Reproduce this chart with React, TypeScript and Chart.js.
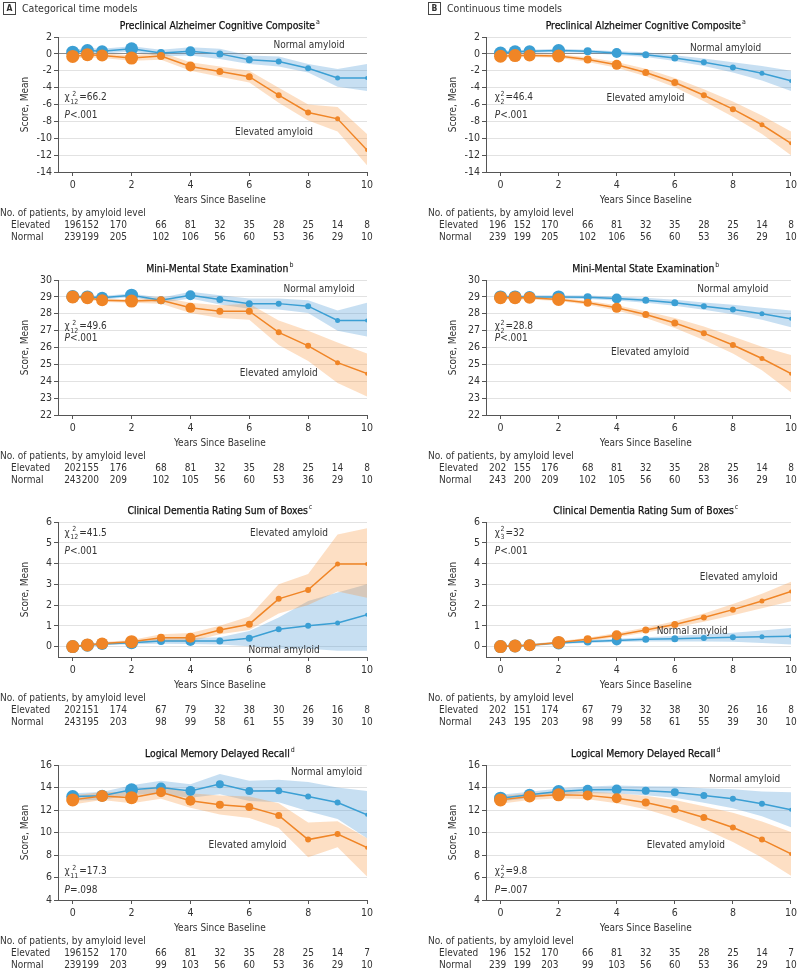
import React, { useEffect, useRef } from "react";
import { Chart, registerables } from "chart.js";
Chart.register(...registerables);

const FONT = "'DejaVu Sans Condensed', 'Liberation Sans Narrow', 'DejaVu Sans', sans-serif";
Chart.defaults.font.family = FONT;

// ---------- time grids / ticks ----------
const T12 = [0, 0.5, 1, 2, 3, 4, 5, 6, 7, 8, 9, 10];
const T11 = [0, 1, 2, 3, 4, 5, 6, 7, 8, 9, 10];
const xTickValues = [0, 2, 4, 6, 8, 10];
const tableColsA = [0, 0.6, 1.55, 3, 4, 5, 6, 7, 8, 9, 10];
const tableColsB = [-0.1, 0.75, 1.7, 3, 4, 5, 6, 7, 8, 9, 10];
const paccTicks = [2, 0, -2, -4, -6, -8, -10, -12, -14];
const mmseTicks = [30, 29, 28, 27, 26, 25, 24, 23, 22];
const cdrTicks = [6, 5, 4, 3, 2, 1, 0];
const lmTicks = [16, 14, 12, 10, 8, 6, 4];

// ---------- patient counts ----------
const paccElevCounts = [196, 152, 170, 66, 81, 32, 35, 28, 25, 14, 8];
const paccNormCounts = [239, 199, 205, 102, 106, 56, 60, 53, 36, 29, 10];
const mmseElevCounts = [202, 155, 176, 68, 81, 32, 35, 28, 25, 14, 8];
const mmseNormCounts = [243, 200, 209, 102, 105, 56, 60, 53, 36, 29, 10];
const cdrElevCounts = [202, 151, 174, 67, 79, 32, 38, 30, 26, 16, 8];
const cdrNormCounts = [243, 195, 203, 98, 99, 58, 61, 55, 39, 30, 10];
const lmElevCounts = [196, 152, 170, 66, 81, 32, 35, 28, 25, 14, 7];
const lmNormCounts = [239, 199, 203, 99, 103, 56, 60, 53, 36, 29, 10];

// ---------- A: categorical time models ----------
const paccCatNormal = [0.2, 0.4, 0.3, 0.6, 0.1, 0.3, 0.0, -0.7, -0.9, -1.7, -2.85, -2.85];
const paccCatNormalUp = [0.5, 0.7, 0.6, 0.9, 0.5, 0.8, 0.6, -0.2, -0.3, -1.2, -1.8, -1.2];
const paccCatNormalLo = [-0.1, 0.1, 0.0, 0.3, -0.3, -0.2, -0.6, -1.2, -1.5, -2.2, -3.9, -4.4];
const paccCatElev = [-0.3, -0.1, -0.2, -0.5, -0.25, -1.5, -2.1, -2.7, -4.9, -6.95, -7.7, -11.4];
const paccCatElevUp = [0.0, 0.2, 0.1, -0.2, 0.2, -1.0, -1.5, -2.0, -4.0, -6.0, -6.3, -9.5];
const paccCatElevLo = [-0.6, -0.4, -0.5, -0.8, -0.7, -2.0, -2.7, -3.4, -5.8, -7.9, -9.2, -13.2];

const mmseCatNormal = [29.02, 29.0, 28.95, 29.1, 28.8, 29.1, 28.85, 28.6, 28.6, 28.45, 27.6, 27.6];
const mmseCatNormalUp = [29.12, 29.1, 29.05, 29.2, 28.95, 29.3, 29.1, 28.9, 28.9, 28.8, 28.2, 28.65];
const mmseCatNormalLo = [28.92, 28.9, 28.85, 29.0, 28.65, 28.9, 28.55, 28.3, 28.25, 28.05, 27.0, 26.65];
const mmseCatElev = [29.0, 28.95, 28.8, 28.75, 28.8, 28.35, 28.15, 28.15, 26.9, 26.1, 25.1, 24.45];
const mmseCatElevUp = [29.1, 29.05, 28.9, 28.85, 29.0, 28.65, 28.5, 28.6, 27.6, 27.0, 26.3, 25.65];
const mmseCatElevLo = [28.9, 28.85, 28.7, 28.65, 28.6, 28.05, 27.75, 27.65, 26.15, 25.2, 23.9, 23.1];

const cdrCatNormal = [0.0, 0.07, 0.13, 0.19, 0.27, 0.27, 0.27, 0.4, 0.84, 1.01, 1.14, 1.53];
const cdrCatNormalUp = [0.05, 0.12, 0.2, 0.27, 0.4, 0.42, 0.45, 0.75, 1.4, 2.2, 2.6, 3.0];
const cdrCatNormalLo = [-0.05, 0.02, 0.06, 0.11, 0.14, 0.12, 0.1, 0.02, -0.1, -0.1, -0.2, -0.2];
const cdrCatElev = [0.0, 0.08, 0.15, 0.24, 0.43, 0.43, 0.8, 1.08, 2.3, 2.73, 3.98, 3.98];
const cdrCatElevUp = [0.05, 0.14, 0.22, 0.32, 0.6, 0.65, 1.0, 1.45, 3.0, 3.5, 5.4, 5.7];
const cdrCatElevLo = [-0.05, 0.02, 0.08, 0.16, 0.26, 0.25, 0.6, 0.8, 1.6, 2.0, 2.65, 2.35];

const lmCatNormal = [13.2, 13.26, 13.79, 14.0, 13.7, 14.3, 13.7, 13.72, 13.2, 12.67, 11.58];
const lmCatNormalUp = [13.5, 13.6, 14.2, 14.6, 14.3, 15.2, 14.6, 14.7, 14.5, 14.0, 13.7];
const lmCatNormalLo = [12.85, 12.9, 13.35, 13.4, 13.1, 13.4, 12.8, 12.7, 11.9, 11.2, 9.5];
const lmCatElev = [12.9, 13.25, 13.1, 13.58, 12.82, 12.46, 12.26, 11.52, 9.37, 9.87, 8.65];
const lmCatElevUp = [13.3, 13.6, 13.6, 14.2, 13.5, 13.3, 13.2, 12.6, 10.9, 11.0, 9.5];
const lmCatElevLo = [12.5, 12.9, 12.6, 13.0, 12.2, 11.6, 11.3, 10.4, 7.8, 8.7, 6.1];

// ---------- B: continuous time models ----------
const paccConNormal = [0.1, 0.25, 0.3, 0.4, 0.3, 0.1, -0.1, -0.5, -1.0, -1.6, -2.3, -3.2];
const paccConNormalUp = [0.35, 0.47, 0.5, 0.6, 0.5, 0.32, 0.18, -0.15, -0.55, -1.0, -1.45, -2.0];
const paccConNormalLo = [-0.15, 0.03, 0.1, 0.2, 0.1, -0.12, -0.38, -0.85, -1.45, -2.2, -3.15, -4.4];
const paccConElev = [-0.28, -0.2, -0.18, -0.25, -0.68, -1.3, -2.2, -3.4, -4.9, -6.55, -8.4, -10.6];
const paccConElevUp = [-0.03, 0.02, 0.02, -0.03, -0.4, -0.95, -1.75, -2.85, -4.2, -5.65, -7.3, -9.2];
const paccConElevLo = [-0.53, -0.42, -0.38, -0.47, -0.96, -1.65, -2.65, -3.95, -5.6, -7.45, -9.5, -12.0];

const mmseConNormal = [29.0, 29.0, 29.0, 29.0, 28.98, 28.9, 28.8, 28.65, 28.45, 28.25, 28.0, 27.7];
const mmseConNormalUp = [29.1, 29.1, 29.1, 29.1, 29.08, 29.02, 28.95, 28.83, 28.67, 28.53, 28.36, 28.2];
const mmseConNormalLo = [28.9, 28.9, 28.9, 28.9, 28.88, 28.78, 28.65, 28.47, 28.23, 27.97, 27.64, 27.2];
const mmseConElev = [28.95, 28.95, 28.95, 28.85, 28.65, 28.35, 27.95, 27.45, 26.85, 26.15, 25.35, 24.45];
const mmseConElevUp = [29.05, 29.05, 29.05, 28.95, 28.77, 28.5, 28.15, 27.75, 27.25, 26.65, 26.05, 25.55];
const mmseConElevLo = [28.85, 28.85, 28.85, 28.75, 28.53, 28.2, 27.75, 27.15, 26.45, 25.65, 24.65, 23.35];

const cdrConNormal = [0.0, 0.03, 0.07, 0.18, 0.25, 0.3, 0.35, 0.38, 0.42, 0.45, 0.48, 0.5];
const cdrConNormalUp = [0.04, 0.07, 0.12, 0.24, 0.32, 0.38, 0.45, 0.51, 0.59, 0.67, 0.78, 0.9];
const cdrConNormalLo = [-0.04, -0.01, 0.02, 0.12, 0.18, 0.22, 0.25, 0.25, 0.25, 0.23, 0.18, 0.1];
const cdrConElev = [0.0, 0.03, 0.07, 0.2, 0.35, 0.55, 0.8, 1.07, 1.4, 1.78, 2.2, 2.65];
const cdrConElevUp = [0.04, 0.07, 0.12, 0.26, 0.43, 0.65, 0.92, 1.22, 1.6, 2.05, 2.55, 3.12];
const cdrConElevLo = [-0.04, -0.01, 0.02, 0.14, 0.27, 0.45, 0.68, 0.92, 1.2, 1.51, 1.85, 2.18];

const lmConNormal = [13.05, 13.35, 13.64, 13.79, 13.82, 13.72, 13.58, 13.29, 13.0, 12.55, 12.02];
const lmConNormalUp = [13.35, 13.63, 13.91, 14.09, 14.17, 14.12, 14.08, 13.94, 13.85, 13.65, 13.57];
const lmConNormalLo = [12.75, 13.07, 13.37, 13.49, 13.47, 13.32, 13.08, 12.64, 12.15, 11.45, 10.47];
const lmConElev = [12.9, 13.2, 13.35, 13.3, 13.05, 12.67, 12.08, 11.34, 10.45, 9.37, 8.1];
const lmConElevUp = [13.25, 13.5, 13.65, 13.65, 13.5, 13.27, 12.88, 12.34, 11.75, 10.97, 10.05];
const lmConElevLo = [12.55, 12.9, 13.05, 12.95, 12.6, 12.07, 11.28, 10.34, 9.15, 7.77, 6.15];

// ---------- styling ----------
const BLUE = "#3b9fd4";
const ORANGE = "#f08526";
const BLUE_BAND = "rgba(80,155,215,0.32)";
const ORANGE_BAND = "rgba(248,150,60,0.30)";
const AXIS = "#555";
const TXT = "#333";
const FS = 10;
const R12 = [6.5, 6.5, 6, 6.5, 4, 5, 3.5, 3.5, 3, 3, 2.5, 2];
const R11 = [6.5, 6, 6.5, 5, 5, 4, 4, 3.5, 3, 3, 2];

type Cfg = {
  title: string; sup: string; yMin: number; yMax: number; yTicks: number[]; zero?: boolean;
  t: number[]; radii: number[];
  normal: number[]; normalUp: number[]; normalLo: number[];
  elev: number[]; elevUp: number[]; elevLo: number[];
  chiSup: string; chiSub: string; chiVal: string; pRest: string;
  chiAt: [number, number]; pAt: [number, number];
  normalAt: [number, number]; elevAt: [number, number];
  elevCounts: number[]; normCounts: number[]; cols: number[];
  right: boolean;
};

const panelsA: Cfg[] = [
  { title: "Preclinical Alzheimer Cognitive Composite", sup: "a", yMin: -14, yMax: 2, yTicks: paccTicks, zero: true,
    t: T12, radii: R12, normal: paccCatNormal, normalUp: paccCatNormalUp, normalLo: paccCatNormalLo,
    elev: paccCatElev, elevUp: paccCatElevUp, elevLo: paccCatElevLo,
    chiSup: "2", chiSub: "12", chiVal: "=66.2", pRest: "<.001", chiAt: [-0.28, -5.2], pAt: [-0.28, -7.35],
    normalAt: [8.03, 0.99], elevAt: [6.84, -9.33], elevCounts: paccElevCounts, normCounts: paccNormCounts, cols: tableColsA, right: false },
  { title: "Mini-Mental State Examination", sup: "b", yMin: 22, yMax: 30, yTicks: mmseTicks,
    t: T12, radii: R12, normal: mmseCatNormal, normalUp: mmseCatNormalUp, normalLo: mmseCatNormalLo,
    elev: mmseCatElev, elevUp: mmseCatElevUp, elevLo: mmseCatElevLo,
    chiSup: "2", chiSub: "12", chiVal: "=49.6", pRest: "<.001", chiAt: [-0.28, 27.23], pAt: [-0.28, 26.54],
    normalAt: [8.37, 29.47], elevAt: [7.0, 24.47], elevCounts: mmseElevCounts, normCounts: mmseNormCounts, cols: tableColsA, right: false },
  { title: "Clinical Dementia Rating Sum of Boxes", sup: "c", yMin: -0.5, yMax: 6, yTicks: cdrTicks,
    t: T12, radii: R12, normal: cdrCatNormal, normalUp: cdrCatNormalUp, normalLo: cdrCatNormalLo,
    elev: cdrCatElev, elevUp: cdrCatElevUp, elevLo: cdrCatElevLo,
    chiSup: "2", chiSub: "12", chiVal: "=41.5", pRest: "<.001", chiAt: [-0.28, 5.47], pAt: [-0.28, 4.58],
    normalAt: [7.18, -0.19], elevAt: [7.35, 5.47], elevCounts: cdrElevCounts, normCounts: cdrNormCounts, cols: tableColsA, right: false },
  { title: "Logical Memory Delayed Recall", sup: "d", yMin: 4, yMax: 16, yTicks: lmTicks,
    t: T11, radii: R11, normal: lmCatNormal, normalUp: lmCatNormalUp, normalLo: lmCatNormalLo,
    elev: lmCatElev, elevUp: lmCatElevUp, elevLo: lmCatElevLo,
    chiSup: "2", chiSub: "11", chiVal: "=17.3", pRest: "=.098", chiAt: [-0.28, 6.51], pAt: [-0.28, 4.89],
    normalAt: [8.63, 15.38], elevAt: [5.94, 8.84], elevCounts: lmElevCounts, normCounts: lmNormCounts, cols: tableColsA, right: false },
];

const panelsB: Cfg[] = [
  { title: "Preclinical Alzheimer Cognitive Composite", sup: "a", yMin: -14, yMax: 2, yTicks: paccTicks, zero: true,
    t: T12, radii: R12, normal: paccConNormal, normalUp: paccConNormalUp, normalLo: paccConNormalLo,
    elev: paccConElev, elevUp: paccConElevUp, elevLo: paccConElevLo,
    chiSup: "2", chiSub: "2", chiVal: "=46.4", pRest: "<.001", chiAt: [-0.2, -5.2], pAt: [-0.2, -7.35],
    normalAt: [7.75, 0.6], elevAt: [4.99, -5.29], elevCounts: paccElevCounts, normCounts: paccNormCounts, cols: tableColsB, right: true },
  { title: "Mini-Mental State Examination", sup: "b", yMin: 22, yMax: 30, yTicks: mmseTicks,
    t: T12, radii: R12, normal: mmseConNormal, normalUp: mmseConNormalUp, normalLo: mmseConNormalLo,
    elev: mmseConElev, elevUp: mmseConElevUp, elevLo: mmseConElevLo,
    chiSup: "2", chiSub: "2", chiVal: "=28.8", pRest: "<.001", chiAt: [-0.2, 27.23], pAt: [-0.2, 26.54],
    normalAt: [8.0, 29.47], elevAt: [5.15, 25.73], elevCounts: mmseElevCounts, normCounts: mmseNormCounts, cols: tableColsB, right: true },
  { title: "Clinical Dementia Rating Sum of Boxes", sup: "c", yMin: -0.5, yMax: 6, yTicks: cdrTicks,
    t: T12, radii: R12, normal: cdrConNormal, normalUp: cdrConNormalUp, normalLo: cdrConNormalLo,
    elev: cdrConElev, elevUp: cdrConElevUp, elevLo: cdrConElevLo,
    chiSup: "2", chiSub: "3", chiVal: "=32", pRest: "<.001", chiAt: [-0.2, 5.47], pAt: [-0.2, 4.58],
    normalAt: [6.6, 0.74], elevAt: [8.2, 3.33], elevCounts: cdrElevCounts, normCounts: cdrNormCounts, cols: tableColsB, right: true },
  { title: "Logical Memory Delayed Recall", sup: "d", yMin: 4, yMax: 16, yTicks: lmTicks,
    t: T11, radii: R11, normal: lmConNormal, normalUp: lmConNormalUp, normalLo: lmConNormalLo,
    elev: lmConElev, elevUp: lmConElevUp, elevLo: lmConElevLo,
    chiSup: "2", chiSub: "2", chiVal: "=9.8", pRest: "=.007", chiAt: [-0.2, 6.51], pAt: [-0.2, 4.89],
    normalAt: [8.4, 14.74], elevAt: [6.38, 8.84], elevCounts: lmElevCounts, normCounts: lmNormCounts, cols: tableColsB, right: true },
];

function drawDecor(chart: any, p: Cfg) {
  const ctx = chart.ctx as CanvasRenderingContext2D;
  const xs = chart.scales.x;
  const ys = chart.scales.y;
  const ca = chart.chartArea;
  ctx.save();
  ctx.fillStyle = TXT;
  ctx.textBaseline = "middle";
  const cx = xs.getPixelForValue(5);
  const base = `${FS}px ${FONT}`;

  // title
  const tFont = `${FS + 0.3}px ${FONT}`;
  const sFont = `7px ${FONT}`;
  ctx.font = tFont;
  const tw = ctx.measureText(p.title).width;
  ctx.font = sFont;
  const sw = ctx.measureText(p.sup).width;
  const tx = cx - (tw + sw + 1) / 2;
  ctx.textAlign = "left";
  ctx.fillStyle = "#111";
  ctx.font = tFont;
  ctx.fillText(p.title, tx, 26);
  ctx.lineWidth = 0.25;
  ctx.strokeStyle = "#111";
  ctx.strokeText(p.title, tx, 26);
  ctx.font = sFont;
  ctx.fillText(p.sup, tx + tw + 1, 22.5);
  ctx.fillStyle = TXT;

  // y title
  ctx.save();
  ctx.translate(ca.left - 33, (ca.top + ca.bottom) / 2);
  ctx.rotate(-Math.PI / 2);
  ctx.textAlign = "center";
  ctx.font = base;
  ctx.fillText("Score, Mean", 0, 0);
  ctx.restore();

  // x title
  ctx.textAlign = "center";
  ctx.font = base;
  ctx.fillText("Years Since Baseline", cx, 200);

  // table
  ctx.textAlign = "left";
  ctx.fillText("No. of patients, by amyloid level", ca.left - 58, 213);
  ctx.fillText("Elevated", ca.left - 47, 225);
  ctx.fillText("Normal", ca.left - 47, 237);
  ctx.textAlign = "center";
  p.elevCounts.forEach((n, i) => ctx.fillText(String(n), xs.getPixelForValue(p.cols[i]), 225));
  p.normCounts.forEach((n, i) => ctx.fillText(String(n), xs.getPixelForValue(p.cols[i]), 237));

  // group labels
  ctx.fillText("Normal amyloid", xs.getPixelForValue(p.normalAt[0]), ys.getPixelForValue(p.normalAt[1]));
  ctx.fillText("Elevated amyloid", xs.getPixelForValue(p.elevAt[0]), ys.getPixelForValue(p.elevAt[1]));

  // chi-square + P
  ctx.textAlign = "left";
  let x = xs.getPixelForValue(p.chiAt[0]);
  const y = ys.getPixelForValue(p.chiAt[1]);
  ctx.font = base;
  ctx.fillText("\u03C7", x, y);
  x += ctx.measureText("\u03C7").width + 0.5;
  ctx.font = `7px ${FONT}`;
  const w1 = ctx.measureText(p.chiSup).width;
  const w2 = ctx.measureText(p.chiSub).width;
  ctx.fillText(p.chiSup, x + (w2 > w1 ? (w2 - w1) / 2 : 0), y - 4);
  ctx.fillText(p.chiSub, x, y + 4.5);
  x += Math.max(w1, w2) + 1;
  ctx.font = base;
  ctx.fillText(p.chiVal, x, y);

  let px = xs.getPixelForValue(p.pAt[0]);
  const py = ys.getPixelForValue(p.pAt[1]);
  ctx.font = `italic ${FS}px ${FONT}`;
  ctx.fillText("P", px, py);
  px += ctx.measureText("P").width;
  ctx.font = base;
  ctx.fillText(p.pRest, px, py);
  ctx.restore();
}

function buildConfig(p: Cfg): any {
  const pts = (ys: number[]) => p.t.map((x, i) => ({ x, y: ys[i] }));
  const band = (ys: number[], fill: any, color: string) => ({
    data: pts(ys), borderWidth: 0, pointRadius: 0, fill, backgroundColor: color, borderColor: "transparent",
  });
  const line = (ys: number[], color: string) => ({
    data: pts(ys), borderColor: color, backgroundColor: color, pointBackgroundColor: color,
    pointBorderColor: color, pointBorderWidth: 0, pointRadius: p.radii, borderWidth: 1.5, fill: false,
  });
  return {
    type: "line",
    data: {
      datasets: [
        line(p.elev, ORANGE),
        line(p.normal, BLUE),
        band(p.elevUp, "+1", ORANGE_BAND),
        band(p.elevLo, false, ORANGE_BAND),
        band(p.normalUp, "+1", BLUE_BAND),
        band(p.normalLo, false, BLUE_BAND),
      ],
    },
    options: {
      responsive: false,
      devicePixelRatio: 1,
      animation: false,
      events: [],
      layout: { padding: { top: 37, bottom: 51, left: p.right ? 46 : 18, right: p.right ? 6 : 33 } },
      plugins: { legend: { display: false }, tooltip: { enabled: false }, title: { display: false } },
      scales: {
        x: {
          type: "linear", min: -0.5, max: 10,
          afterBuildTicks: (s: any) => { s.ticks = xTickValues.map((v) => ({ value: v })); },
          afterFit: (s: any) => { s.height = 20; },
          grid: { display: true, drawOnChartArea: false, drawTicks: true, tickLength: 4, tickColor: AXIS },
          border: { display: true, color: AXIS, width: 1 },
          ticks: { font: { size: FS + 0.5, family: FONT }, color: TXT, padding: 3, maxRotation: 0, autoSkip: false },
        },
        y: {
          type: "linear", min: p.yMin, max: p.yMax,
          afterBuildTicks: (s: any) => { s.ticks = p.yTicks.map((v) => ({ value: v })); },
          afterFit: (s: any) => { s.width = 40; },
          grid: {
            color: (c: any) => (p.zero && c.tick && c.tick.value === 0 ? "#8c8c8c" : "#e2e2e2"),
            tickColor: AXIS, tickLength: 4, drawTicks: true,
          },
          border: { display: true, color: AXIS, width: 1 },
          ticks: { font: { size: FS + 0.5, family: FONT }, color: TXT, padding: 2 },
        },
      },
    },
    plugins: [{ id: "decor", afterDraw: (c: any) => drawDecor(c, p) }],
  };
}

function Panel({ cfg, left, top }: { cfg: Cfg; left: number; top: number }) {
  const ref = useRef<HTMLCanvasElement>(null);
  useEffect(() => {
    const chart = new Chart(ref.current as HTMLCanvasElement, buildConfig(cfg));
    return () => chart.destroy();
  }, [cfg]);
  return (
    <canvas ref={ref} width={400} height={243}
      style={{ position: "absolute", left, top, width: 400, height: 243, display: "block" }} />
  );
}

function Header({ letter, text, left }: { letter: string; text: string; left: number }) {
  return (
    <div style={{ position: "absolute", left, top: 2, display: "flex", alignItems: "center", fontFamily: FONT, color: "#333" }}>
      <div style={{ width: 11, height: 11, border: "1px solid #444", fontSize: 8.5, fontWeight: 700, display: "flex",
        alignItems: "center", justifyContent: "center", lineHeight: "11px", background: "#fff" }}>{letter}</div>
      <span style={{ marginLeft: 6, fontSize: 10.5, lineHeight: "13px" }}>{text}</span>
    </div>
  );
}

const TOPS = [0, 243, 485, 728];

export default function App() {
  return (
    <div style={{ position: "absolute", left: 0, top: 0, width: 800, height: 970, overflow: "hidden", background: "#fff" }}>
      {panelsA.map((c, i) => <Panel key={"a" + i} cfg={c} left={0} top={TOPS[i]} />)}
      {panelsB.map((c, i) => <Panel key={"b" + i} cfg={c} left={400} top={TOPS[i]} />)}
      <Header letter="A" text="Categorical time models" left={3} />
      <Header letter="B" text="Continuous time models" left={428} />
    </div>
  );
}
